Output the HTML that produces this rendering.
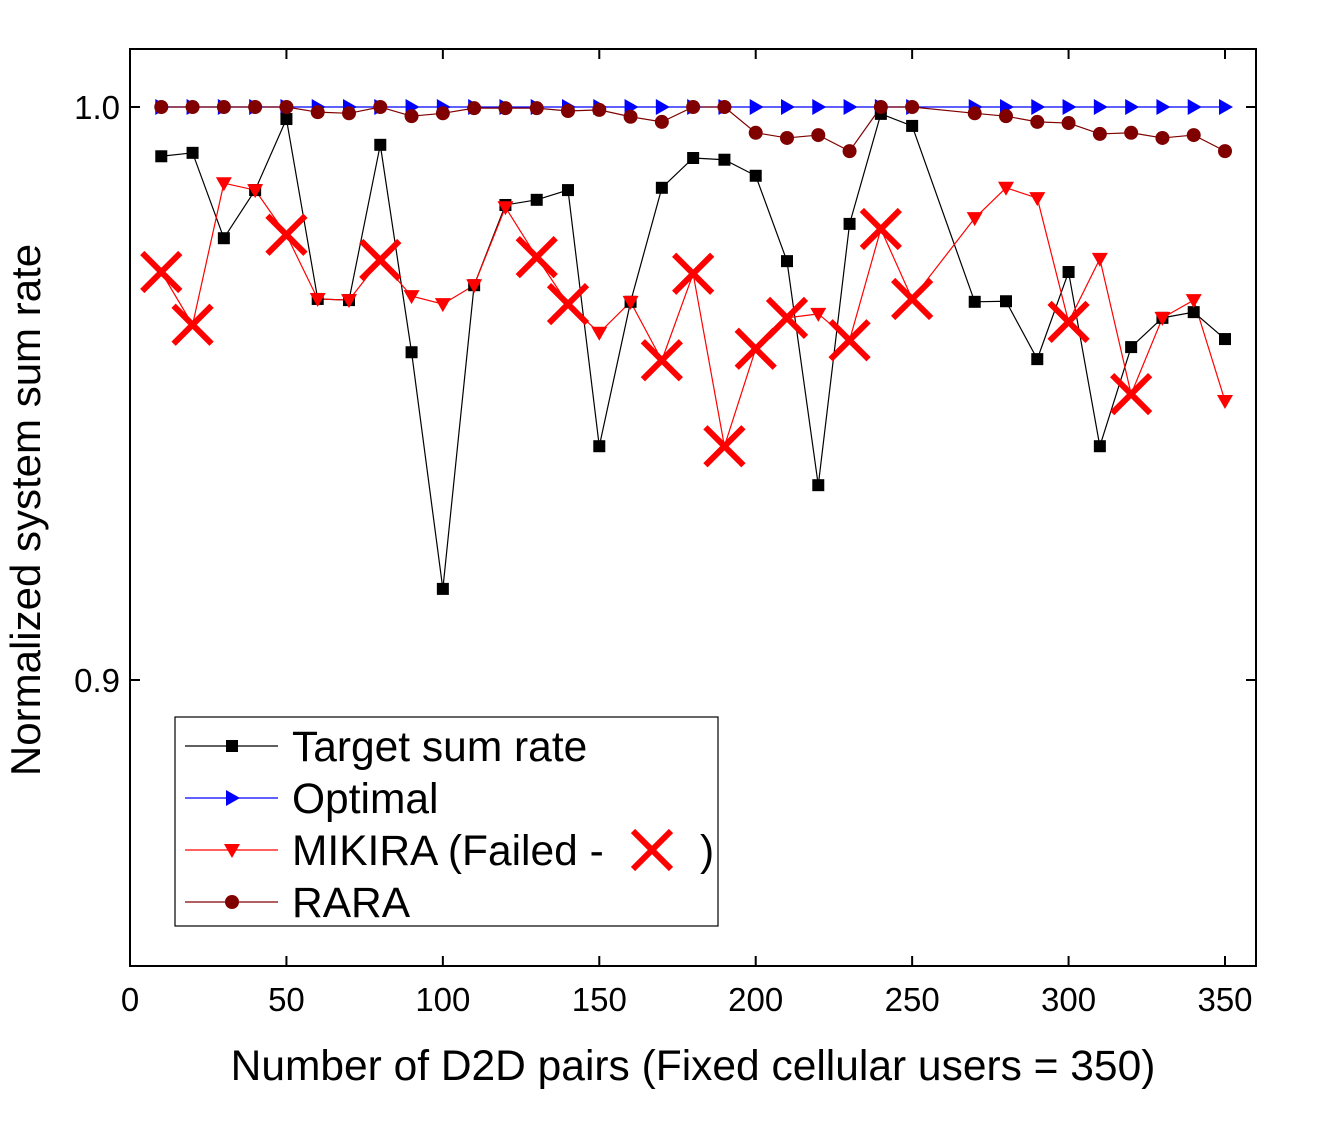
<!DOCTYPE html>
<html><head><meta charset="utf-8"><style>
body{margin:0;background:#fff}
svg text{font-family:"Liberation Sans",Arial,sans-serif}
</style></head><body>
<svg id="chart" width="1321" height="1117" xmlns="http://www.w3.org/2000/svg">
<g id="plot"></g>
</svg>
<script>
const xVals=[10,20,30,40,50,60,70,80,90,100,110,120,130,140,150,160,170,180,190,200,210,220,230,240,250,270,280,290,300,310,320,330,340,350];
const targetVals=[0.9914,0.992,0.9771,0.9855,0.9979,0.9665,0.9663,0.9934,0.9572,0.9159,0.9689,0.9829,0.9838,0.9855,0.9408,0.966,0.9859,0.9911,0.9908,0.988,0.9731,0.934,0.9796,0.9988,0.9967,0.966,0.9661,0.956,0.9712,0.9408,0.9581,0.9632,0.9642,0.9595];
const optimalVals=xVals.map(()=>1.0);
const mikiraVals=[0.9712,0.962,0.9867,0.9855,0.9777,0.9665,0.9663,0.9733,0.967,0.9656,0.9689,0.9825,0.9738,0.9656,0.9606,0.966,0.9558,0.9709,0.9408,0.9578,0.9632,0.9639,0.9593,0.9787,0.9665,0.9806,0.9859,0.9841,0.9625,0.9735,0.9499,0.9632,0.9663,0.9487];
const mikiraFailed=[1,1,0,0,1,0,0,1,0,0,0,0,1,1,0,0,1,1,1,1,1,0,1,1,1,0,0,0,1,0,1,0,0,0];
const raraVals=[1,1,1,1,1,0.9991,0.9989,1,0.9984,0.9989,0.9998,0.9998,0.9998,0.9993,0.9995,0.9983,0.9974,1,1,0.9955,0.9946,0.9951,0.9923,1,1,0.9989,0.9984,0.9974,0.9972,0.9953,0.9955,0.9946,0.9951,0.9923];
const xTicks=[0,50,100,150,200,250,300,350];
const yTicks=[0.9,1.0];
const yTickLabels=["0.9","1.0"];

const L=130,R=1256,T=49,B=966;
const X=v=>130+v*(1225-130)/350;
const Y=v=>107+(1.0-v)*5730;
const NS="http://www.w3.org/2000/svg";
const g=document.getElementById('plot');
function el(tag,attrs,parent){const e=document.createElementNS(NS,tag);for(const k in attrs)e.setAttribute(k,attrs[k]);(parent||g).appendChild(e);return e;}

let frame=el('rect',{x:L,y:T,width:R-L,height:B-T,fill:'none',stroke:'#000','stroke-width':2});


xTicks.forEach(t=>{
  const px=X(t);
  let a=el('line',{x1:px,x2:px,y1:B,y2:B-10,stroke:'#000','stroke-width':2});
  
  
  let b=el('line',{x1:px,x2:px,y1:T,y2:T+10,stroke:'#000','stroke-width':2});
  
  
  let tx=el('text',{x:px,y:1011,'font-size':33,'text-anchor':'middle'});tx.textContent=t;
  
  
});
yTicks.forEach((t,i)=>{
  const py=Y(t);
  let a=el('line',{x1:L,x2:L+10,y1:py,y2:py,stroke:'#000','stroke-width':2});
  
  
  let b=el('line',{x1:R,x2:R-10,y1:py,y2:py,stroke:'#000','stroke-width':2});
  
  
  let tx=el('text',{x:120,y:py+12,'font-size':33,'text-anchor':'end'});tx.textContent=yTickLabels[i];
  
  
});
let xt=el('text',{x:693,y:1080,'font-size':42.5,'text-anchor':'middle'});xt.textContent='Number of D2D pairs (Fixed cellular users = 350)';


let yt=el('text',{x:0,y:0,'font-size':42,'text-anchor':'middle',transform:'translate(40,510) rotate(-90)'});yt.textContent='Normalized system sum rate';



function line(vals,color,name){
  const p=el('polyline',{points:vals.map((v,i)=>X(xVals[i])+','+Y(v)).join(' '),fill:'none',stroke:color,'stroke-width':1.2});
  
  
}
function marker(type,cx,cy,color,parent){
  let m;
  if(type==='sq')m=el('rect',{x:cx-6,y:cy-6,width:12,height:12,fill:color},parent);
  else if(type==='tr')m=el('polygon',{points:`${cx-6},${cy-8} ${cx+8},${cy} ${cx-6},${cy+8}`,fill:color},parent);
  else if(type==='td')m=el('polygon',{points:`${cx-8},${cy-6} ${cx+8},${cy-6} ${cx},${cy+8}`,fill:color},parent);
  else if(type==='ci')m=el('circle',{cx:cx,cy:cy,r:7,fill:color},parent);
  else if(type==='x'){m=el('path',{d:`M${cx-19},${cy-19}L${cx+19},${cy+19}M${cx+19},${cy-19}L${cx-19},${cy+19}`,stroke:'#f00','stroke-width':6,fill:'none'},parent);}
  return m;
}
line(targetVals,'#000','target-line');
line(optimalVals,'#0000ff','optimal-line');
line(mikiraVals,'#f00','mikira-line');
line(raraVals,'#800000','rara-line');
xVals.forEach((x,i)=>{
  let m=marker('tr',X(x),Y(optimalVals[i]),'#0000ff');
  
  
});
xVals.forEach((x,i)=>{
  let m=marker('sq',X(x),Y(targetVals[i]),'#000');
  
  
});
xVals.forEach((x,i)=>{
  let m=marker(mikiraFailed[i]?'x':'td',X(x),Y(mikiraVals[i]),'#f00');
  
  
});
xVals.forEach((x,i)=>{
  let m=marker('ci',X(x),Y(raraVals[i]),'#800000');
  
  
});

// legend
const lg=el('g',{});


el('rect',{x:175,y:717,width:543,height:209,fill:'#fff',stroke:'#000','stroke-width':1.2},lg);
const legNames=['Target sum rate','Optimal','MIKIRA (Failed -','RARA'];
const legColors=['#000','#0000ff','#f00','#800000'];
const legMarks=['sq','tr','td','ci'];
legNames.forEach((n,i)=>{
  const y=746+i*52;
  const e=el('g',{},lg);
  
  
  el('line',{x1:185,x2:278,y1:y,y2:y,stroke:legColors[i],'stroke-width':1.2},e);
  marker(legMarks[i],232,y,legColors[i],e);
  const t=el('text',{x:292,y:y+15,'font-size':42.5},e);t.textContent=n;
});
const lx=marker('x',652,850,'#f00',lg);


const pt=el('text',{x:700,y:865,'font-size':42.5},lg);pt.textContent=')';
</script>
</body></html>
